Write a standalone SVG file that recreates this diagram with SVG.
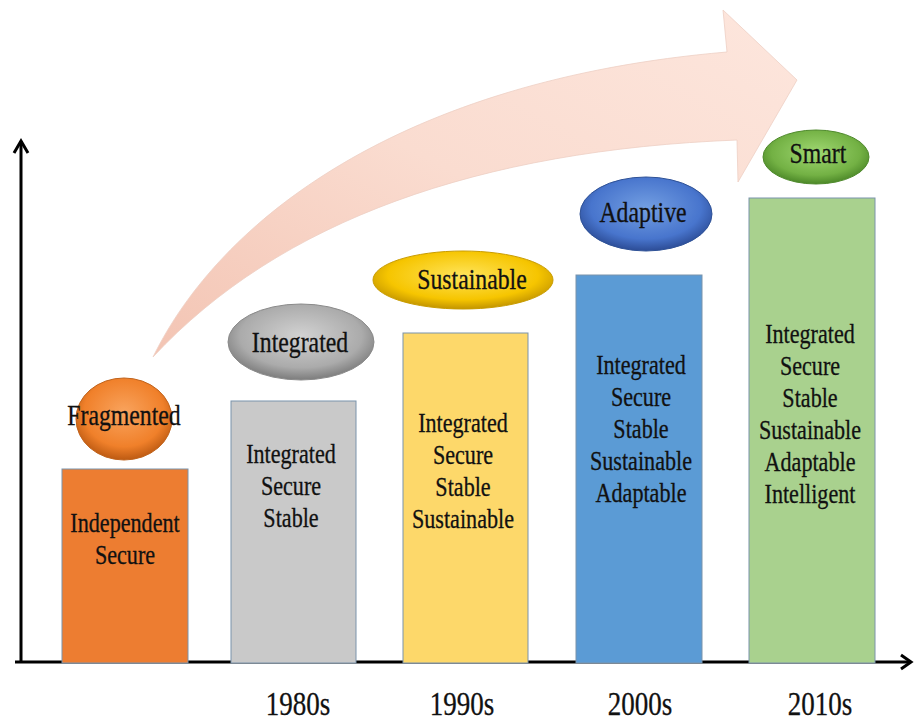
<svg xmlns="http://www.w3.org/2000/svg" width="914" height="722" viewBox="0 0 914 722">
  <style>
    text { font-family: 'Liberation Serif', 'Times New Roman', serif; fill: #111; stroke: #111; stroke-width: 0.3; text-anchor: middle; }
    .lbl { font-size: 27px; }
    .tag { font-size: 29px; }
    .yr  { font-size: 33px; }
    .bar { stroke: #7A93AB; stroke-width: 1; }
    .axis { stroke: #000; stroke-width: 3; fill: none; }
    .pill { stroke-width: 1; }
  </style>
  <defs>
    <linearGradient id="trendFill" x1="0" y1="1" x2="1" y2="0">
      <stop offset="0" stop-color="#F3C4B3"/>
      <stop offset="0.5" stop-color="#FADCD0"/>
      <stop offset="1" stop-color="#FDE6DD"/>
    </linearGradient>
    <radialGradient id="gOrange" cx="50%" cy="42%" r="58%">
      <stop offset="0" stop-color="#F9A45E"/>
      <stop offset="0.72" stop-color="#F0802A"/>
      <stop offset="1" stop-color="#BD5A12"/>
    </radialGradient>
    <radialGradient id="gGray" cx="50%" cy="42%" r="58%">
      <stop offset="0" stop-color="#D2D2D2"/>
      <stop offset="0.72" stop-color="#ABABAB"/>
      <stop offset="1" stop-color="#7C7C7C"/>
    </radialGradient>
    <radialGradient id="gYellow" cx="50%" cy="42%" r="58%">
      <stop offset="0" stop-color="#FFE45A"/>
      <stop offset="0.72" stop-color="#F6C500"/>
      <stop offset="1" stop-color="#C39500"/>
    </radialGradient>
    <radialGradient id="gBlue" cx="50%" cy="42%" r="58%">
      <stop offset="0" stop-color="#739FE2"/>
      <stop offset="0.72" stop-color="#4875CD"/>
      <stop offset="1" stop-color="#2C4C96"/>
    </radialGradient>
    <radialGradient id="gGreen" cx="50%" cy="42%" r="58%">
      <stop offset="0" stop-color="#A0D872"/>
      <stop offset="0.72" stop-color="#73B144"/>
      <stop offset="1" stop-color="#4C8828"/>
    </radialGradient>
  </defs>

  <rect width="914" height="722" fill="#fff"/>

  <!-- sweeping trend arrow behind everything -->
  <g id="trend-arrow">
    <path d="M153,357 C220,220 400,80 727,52 L723,10 L797,80 L738,182 L737,140 C480,150 280,220 153,357 Z"
          fill="url(#trendFill)" stroke="#EDCFC4" stroke-width="0.8"/>
  </g>

  <!-- axes -->
  <g id="connectors">
    <path class="axis" d="M21,663 V141"/>
    <path class="axis" d="M14,153 L21,141 L28,153"/>
    <path class="axis" d="M15,662 H910"/>
    <path class="axis" d="M901,655 L911,662 L901,669"/>
  </g>

  <!-- stage: Fragmented -->
  <g id="stage-fragmented">
    <rect class="bar" x="62" y="469" width="126" height="194" fill="#ED7D31"/>
    <g transform="translate(125,0) scale(0.82,1)">
      <text class="lbl" x="0" y="532">Independent</text>
      <text class="lbl" x="0" y="564">Secure</text>
    </g>
    <ellipse class="pill" cx="124" cy="419" rx="48" ry="41" fill="url(#gOrange)" stroke="#C0631C"/>
    <text class="tag" transform="translate(124,425) scale(0.82,1)">Fragmented</text>
  </g>

  <!-- stage: Integrated (1980s) -->
  <g id="stage-integrated">
    <rect class="bar" x="231" y="401" width="125" height="262" fill="#C9C9C9"/>
    <g transform="translate(291,0) scale(0.82,1)">
      <text class="lbl" x="0" y="463">Integrated</text>
      <text class="lbl" x="0" y="495">Secure</text>
      <text class="lbl" x="0" y="527">Stable</text>
    </g>
    <ellipse class="pill" cx="301" cy="342" rx="73" ry="38" fill="url(#gGray)" stroke="#8A8A8A"/>
    <text class="tag" transform="translate(300,352) scale(0.82,1)">Integrated</text>
    <text class="yr" transform="translate(298,715) scale(0.82,1)">1980s</text>
  </g>

  <!-- stage: Sustainable (1990s) -->
  <g id="stage-sustainable">
    <rect class="bar" x="403" y="333" width="125" height="330" fill="#FDD86A"/>
    <g transform="translate(463,0) scale(0.82,1)">
      <text class="lbl" x="0" y="432">Integrated</text>
      <text class="lbl" x="0" y="464">Secure</text>
      <text class="lbl" x="0" y="496">Stable</text>
      <text class="lbl" x="0" y="528">Sustainable</text>
    </g>
    <ellipse class="pill" cx="463" cy="280" rx="90" ry="29" fill="url(#gYellow)" stroke="#C99C00"/>
    <text class="tag" transform="translate(472,289) scale(0.82,1)">Sustainable</text>
    <text class="yr" transform="translate(462,715) scale(0.82,1)">1990s</text>
  </g>

  <!-- stage: Adaptive (2000s) -->
  <g id="stage-adaptive">
    <rect class="bar" x="576" y="275" width="126" height="388" fill="#5B9BD5"/>
    <g transform="translate(641,0) scale(0.82,1)">
      <text class="lbl" x="0" y="374">Integrated</text>
      <text class="lbl" x="0" y="406">Secure</text>
      <text class="lbl" x="0" y="438">Stable</text>
      <text class="lbl" x="0" y="470">Sustainable</text>
      <text class="lbl" x="0" y="502">Adaptable</text>
    </g>
    <ellipse class="pill" cx="646" cy="214" rx="66" ry="37" fill="url(#gBlue)" stroke="#2F5297"/>
    <text class="tag" transform="translate(643,222) scale(0.82,1)">Adaptive</text>
    <text class="yr" transform="translate(640,715) scale(0.82,1)">2000s</text>
  </g>

  <!-- stage: Smart (2010s) -->
  <g id="stage-smart">
    <rect class="bar" x="749" y="198" width="126" height="465" fill="#A9D18E"/>
    <g transform="translate(810,0) scale(0.82,1)">
      <text class="lbl" x="0" y="343">Integrated</text>
      <text class="lbl" x="0" y="375">Secure</text>
      <text class="lbl" x="0" y="407">Stable</text>
      <text class="lbl" x="0" y="439">Sustainable</text>
      <text class="lbl" x="0" y="471">Adaptable</text>
      <text class="lbl" x="0" y="503">Intelligent</text>
    </g>
    <ellipse class="pill" cx="816" cy="157" rx="53" ry="27" fill="url(#gGreen)" stroke="#4F8A2C"/>
    <text class="tag" transform="translate(818,163) scale(0.82,1)">Smart</text>
    <text class="yr" transform="translate(820,715) scale(0.82,1)">2010s</text>
  </g>
</svg>
